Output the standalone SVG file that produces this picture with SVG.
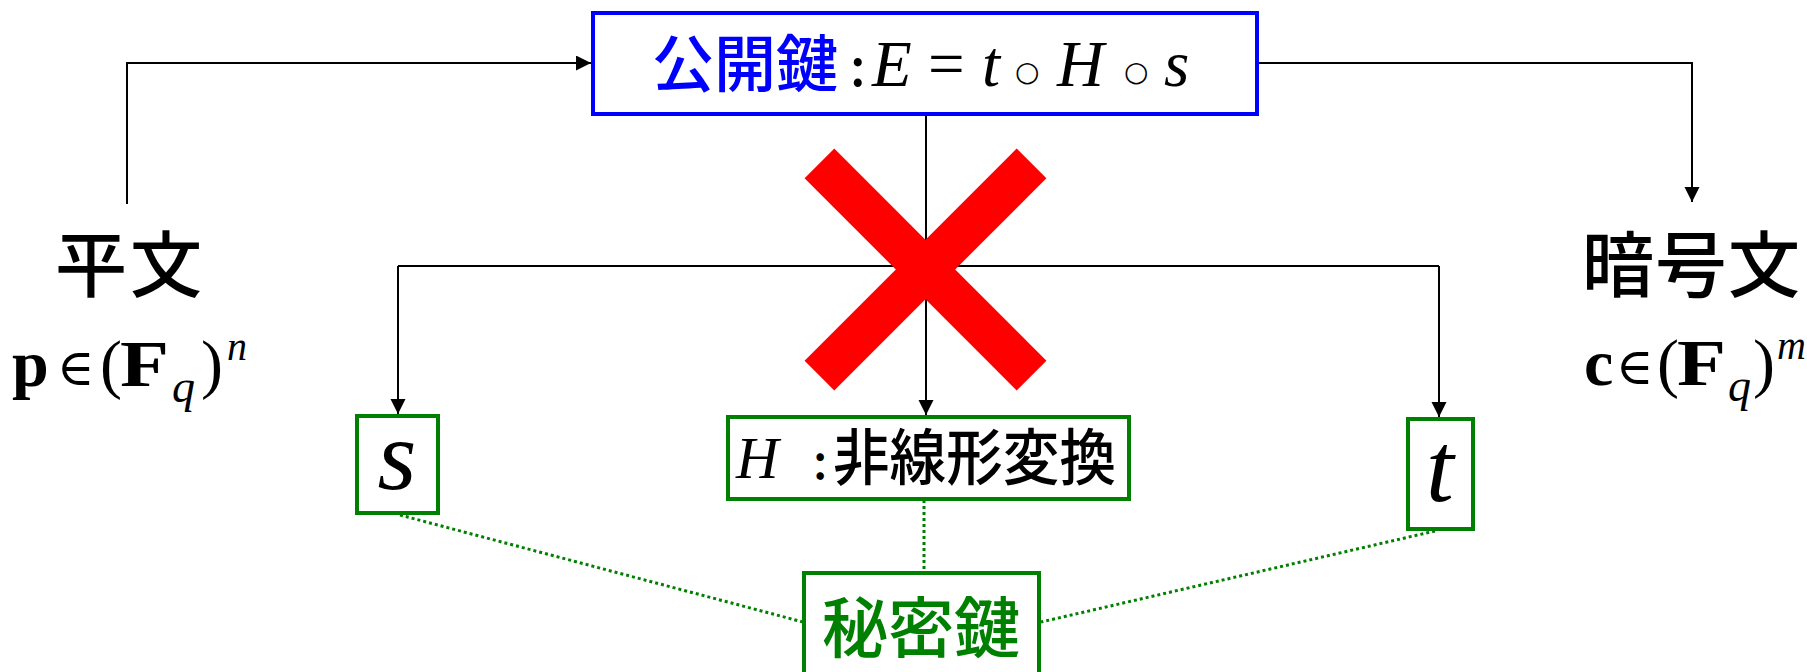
<svg xmlns="http://www.w3.org/2000/svg" width="1807" height="672" viewBox="0 0 1807 672">
<style>
.cjk{font-family:"Noto Sans CJK JP","Noto Sans CJK SC",sans-serif;font-weight:500}
.m{font-family:"Liberation Serif","DejaVu Serif",serif}
.mi{font-family:"Liberation Serif","DejaVu Serif",serif;font-style:italic}
.mb{font-family:"Liberation Serif","DejaVu Serif",serif;font-weight:bold}
.sym{font-family:"DejaVu Serif",serif}
.conn{fill:none;stroke:#000;stroke-width:2}
.dot{fill:none;stroke:#008000;stroke-width:3;stroke-dasharray:3 3}
.gbox{fill:#fff;stroke:#008000;stroke-width:4}
</style>
<defs>
<marker id="arr" markerUnits="userSpaceOnUse" markerWidth="16" markerHeight="16" refX="15" refY="7.5" orient="auto">
<path d="M0,0 L15,7.5 L0,15 z" fill="#000"/>
</marker>
</defs>
<g id="connectors">
<path class="conn" d="M127,204 V63 H591" marker-end="url(#arr)"/>
<path class="conn" d="M1257,63 H1692 V202" marker-end="url(#arr)"/>
<path class="conn" d="M926,114 V415" marker-end="url(#arr)"/>
<path class="conn" d="M398,266 H1439"/>
<path class="conn" d="M398,266 V414" marker-end="url(#arr)"/>
<path class="conn" d="M1439,266 V417" marker-end="url(#arr)"/>
<path class="dot" d="M400,515 L803,622"/>
<path class="dot" d="M924,500 V572"/>
<path class="dot" d="M1435,531 L1041,622"/>
</g>
<g id="cross">
<rect x="775.5" y="248.5" width="300" height="42" fill="#ff0000" transform="rotate(45 925.5 269.5)"/>
<rect x="775.5" y="248.5" width="300" height="42" fill="#ff0000" transform="rotate(-45 925.5 269.5)"/>
</g>
<g id="public-key">
<rect x="593" y="13" width="664" height="101" fill="none" stroke="#0000ff" stroke-width="4"/>
<text class="cjk" x="652" y="87" font-size="62" fill="#0000ff">公開鍵</text>
<text class="cjk" x="850" y="86" font-size="52" fill="#000">:</text>
<text class="mi" font-size="65" y="86"><tspan x="872">E</tspan></text>
<text class="m" font-size="65" y="86"><tspan x="928">=</tspan></text>
<text class="mi" font-size="65" y="86"><tspan x="982">t</tspan><tspan x="1057">H</tspan><tspan x="1164">s</tspan></text>
<text class="sym" font-size="28" y="81"><tspan x="1015">○</tspan><tspan x="1124">○</tspan></text>
</g>
<g id="plaintext">
<text class="cjk" x="55" y="291" font-size="72" letter-spacing="3">平文</text>
<text class="mb" x="12" y="386" font-size="66">p</text>
<text class="sym" x="57" y="385" font-size="51">∈</text>
<text class="m" x="100" y="386" font-size="66">(</text>
<text class="mb" x="120" y="386" font-size="66" textLength="49" lengthAdjust="spacingAndGlyphs">F</text>
<text class="mi" x="172" y="402" font-size="46">q</text>
<text class="m" x="201" y="386" font-size="66">)</text>
<text class="mi" x="227" y="360" font-size="40">n</text>
</g>
<g id="ciphertext">
<text class="cjk" x="1582" y="291" font-size="72" letter-spacing="1">暗号文</text>
<text class="mb" x="1584" y="385" font-size="66">c</text>
<text class="sym" x="1616" y="384" font-size="51">∈</text>
<text class="m" x="1657" y="385" font-size="66">(</text>
<text class="mb" x="1677" y="385" font-size="66" textLength="49" lengthAdjust="spacingAndGlyphs">F</text>
<text class="mi" x="1728" y="401" font-size="46">q</text>
<text class="m" x="1753" y="385" font-size="66">)</text>
<text class="mi" x="1777" y="359" font-size="40">m</text>
</g>
<g id="s-node">
<rect class="gbox" x="357" y="416" width="81" height="97"/>
<text class="mi" x="397" y="489" font-size="100" text-anchor="middle">s</text>
</g>
<g id="h-node">
<rect class="gbox" x="728" y="417" width="401" height="82"/>
<text class="mi" x="736" y="478" font-size="59">H</text>
<text class="cjk" x="813" y="479" font-size="48">:</text>
<text class="cjk" x="833" y="480" font-size="61" textLength="283" lengthAdjust="spacingAndGlyphs">非線形変換</text>
</g>
<g id="t-node">
<rect class="gbox" x="1408" y="419" width="65" height="110"/>
<text class="mi" x="1440" y="501" font-size="100" text-anchor="middle">t</text>
</g>
<g id="secret-key">
<rect class="gbox" x="804" y="573" width="235" height="112"/>
<text class="cjk" x="921" y="652" font-size="66" fill="#008000" text-anchor="middle">秘密鍵</text>
</g>
</svg>
